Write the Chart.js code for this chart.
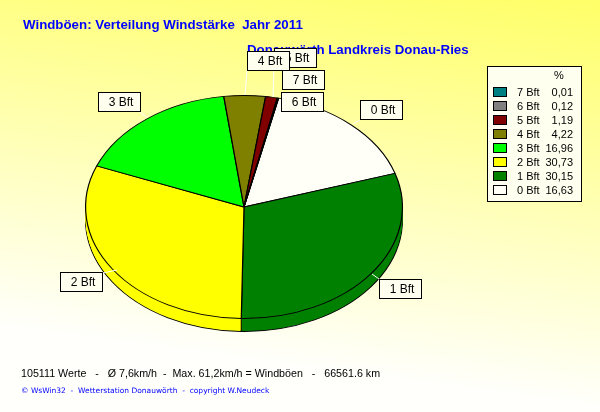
<!DOCTYPE html>
<html>
<head>
<meta charset="utf-8">
<style>
  html, body { margin: 0; padding: 0; background: #fff; }
  canvas { display: block; }
</style>
<script src="https://cdn.jsdelivr.net/npm/chart.js@4"></script>
</head>
<body>
<canvas id="chart" width="600" height="412"></canvas>
<script>
const categories = ['0 Bft', '1 Bft', '2 Bft', '3 Bft', '4 Bft', '5 Bft', '6 Bft', '7 Bft'];
const percentages = [16.63, 30.15, 30.73, 16.96, 4.22, 1.19, 0.12, 0.01];
const sliceColors = ['#fffff8', '#008000', '#ffff00', '#00ff00', '#808000', '#800000', '#808080', '#008080'];

const titleText = 'Windböen: Verteilung Windstärke  Jahr 2011';
const subtitleText = 'Donauwörth Landkreis Donau-Ries';
const statsText = '105111 Werte   -   Ø 7,6km/h  -  Max. 61,2km/h = Windböen   -   66561.6 km';
const creditText = '© WsWin32  -  Wetterstation Donauwörth  -  copyright W.Neudeck';

const squash = 0.704;
const depth = 13;
const SANS = '"Liberation Sans", Arial, sans-serif';

// draw order matters, 4 Bft sits on top of 5 Bft
const labelBoxes = [
    { i: 5, x: 274, y: 48, line: [273, 97, 274, 68] },
    { i: 7, x: 282, y: 70 },
    { i: 6, x: 281, y: 92 },
    { i: 4, x: 247, y: 51, line: [245, 95, 247, 70] },
    { i: 0, x: 360, y: 100, line: [353, 124, 360, 120] },
    { i: 3, x: 98, y: 92, line: [140, 112, 147, 117] },
    { i: 2, x: 60, y: 272, line: [117, 270, 103, 273] },
    { i: 1, x: 379, y: 279, line: [372, 274, 379, 279] }
];

const tiltPie = {
    id: 'tiltPie',
    beforeDraw(chart) {
        const { ctx, width, height } = chart;
        // runs slightly diagonal, palest towards the lower left
        const grad = ctx.createLinearGradient(600, 0, 546, 401);
        grad.addColorStop(0, '#ffff68');
        grad.addColorStop(1, '#fffffc');
        ctx.fillStyle = grad;
        ctx.fillRect(0, 0, width, height);
        ctx.textBaseline = 'middle';
        ctx.fillStyle = '#0000ff';
        ctx.font = 'bold 13.3px ' + SANS;
        ctx.fillText(subtitleText, 247, 50);
        ctx.fillText(titleText, 23, 25);
        ctx.fillStyle = '#000';
        ctx.font = '10.7px ' + SANS;
        ctx.fillText(statsText, 21, 374);
        ctx.fillStyle = '#0000ff';
        ctx.font = '7.5px "DejaVu Sans", sans-serif';
        ctx.fillText(creditText, 21, 391);
    },
    beforeDatasetDraw(chart, args) {
        const { ctx } = chart;
        const arcs = chart.getDatasetMeta(args.index).data;
        const cy = arcs[0].y;
        ctx.save();
        ctx.translate(0, cy);
        ctx.scale(1, squash);
        ctx.translate(0, -cy);
        // side wall: lowest ring with outline, then solid layers up to the top
        for (let d = depth; d > 0; d--) {
            ctx.save();
            ctx.translate(0, d / squash);
            arcs.forEach(arc => {
                const saved = arc.options;
                if (d < depth) arc.options = { ...saved, borderWidth: 0 };
                arc.draw(ctx);
                arc.options = saved;
            });
            ctx.restore();
        }
    },
    afterDatasetDraw(chart, args) {
        const { ctx } = chart;
        ctx.restore();
        // seams on the front side of the wall
        chart.getDatasetMeta(args.index).data.forEach(arc => {
            if (Math.sin(arc.startAngle) <= 0) return;
            const px = arc.x + arc.outerRadius * Math.cos(arc.startAngle);
            const py = arc.y + arc.outerRadius * Math.sin(arc.startAngle) * squash;
            ctx.strokeStyle = '#000';
            ctx.lineWidth = 1;
            ctx.beginPath();
            ctx.moveTo(px, py);
            ctx.lineTo(px, py + depth);
            ctx.stroke();
        });
    },
    afterDraw(chart) {
        const { ctx } = chart;
        ctx.textBaseline = 'middle';

        labelBoxes.forEach(b => {
            if (b.line) {
                ctx.strokeStyle = '#fff';
                ctx.lineWidth = 1;
                ctx.beginPath();
                ctx.moveTo(b.line[0], b.line[1]);
                ctx.lineTo(b.line[2], b.line[3]);
                ctx.stroke();
            }
            ctx.fillStyle = '#fffff0';
            ctx.strokeStyle = '#000';
            ctx.fillRect(b.x + 0.5, b.y + 0.5, 42, 19);
            ctx.strokeRect(b.x + 0.5, b.y + 0.5, 42, 19);
            ctx.fillStyle = '#000';
            ctx.font = '12px ' + SANS;
            ctx.textAlign = 'center';
            ctx.fillText(categories[b.i], b.x + 23, b.y + 10.5);
        });

        // legend box, highest class first
        ctx.fillStyle = '#fffff0';
        ctx.strokeStyle = '#000';
        ctx.fillRect(487.5, 66.5, 94, 135);
        ctx.strokeRect(487.5, 66.5, 94, 135);
        ctx.font = '11px ' + SANS;
        ctx.fillStyle = '#000';
        ctx.textAlign = 'center';
        ctx.fillText('%', 559, 76);
        for (let row = 0; row < categories.length; row++) {
            const i = categories.length - 1 - row;
            const y = 92 + row * 14;
            ctx.fillStyle = sliceColors[i];
            ctx.fillRect(493.5, y - 4.5, 13, 9);
            ctx.strokeRect(493.5, y - 4.5, 13, 9);
            ctx.fillStyle = '#000';
            ctx.textAlign = 'left';
            ctx.fillText(categories[i], 517, y + 0.5);
            ctx.textAlign = 'right';
            ctx.fillText(percentages[i].toFixed(2).replace('.', ','), 573, y + 0.5);
        }
        ctx.textAlign = 'left';
    }
};

new Chart(document.getElementById('chart'), {
    type: 'pie',
    data: {
        labels: categories,
        datasets: [{
            data: percentages,
            backgroundColor: sliceColors,
            borderColor: '#000',
            borderWidth: 1.2,
            clip: false
        }]
    },
    options: {
        responsive: false,
        animation: false,
        events: [],
        rotation: 12.6,
        layout: { padding: { left: 85, right: 197, top: 48, bottom: 46 } },
        plugins: {
            legend: { display: false },
            tooltip: { enabled: false }
        }
    },
    plugins: [tiltPie]
});
</script>
</body>
</html>
